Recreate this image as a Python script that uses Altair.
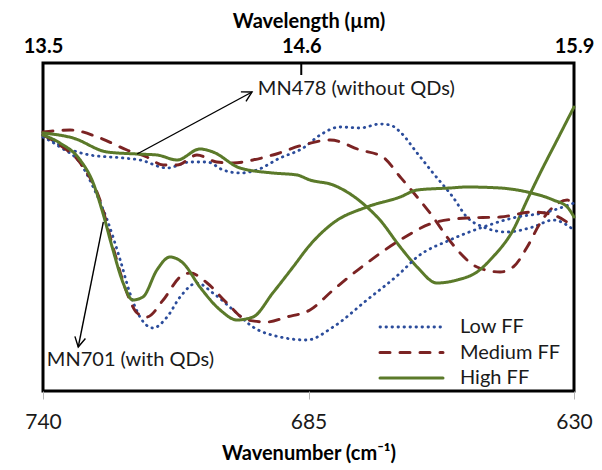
import math
import altair as alt
import pandas as pd

FONT = "Lato"

# ---- series definitions ----
series_names = ["Low FF", "Medium FF", "High FF"]
series_colors = ["#2B4C9B", "#7B2323", "#5B7A2A"]
series_dash = [[0.5, 5.5], [10, 10], [1, 0]]
series_width = [2.8, 3, 3]

# ---- MN478 (without QDs) ----
mn478_low_wn = [740, 736.5, 730.3, 723.4, 719.9, 714.3, 709.5, 706.0, 702.7, 699.2, 695.7, 690.9, 686.1, 682.6,
                678.5, 674.3, 670.2, 668.1, 666.0, 662.5, 659.2, 655.1, 652.2, 648.8, 643.9, 638.5, 634.3, 630]
mn478_low_t = [256, 246, 236, 233, 231, 223, 229, 229, 221, 218, 221, 233, 243, 256,
               264, 263, 267, 266, 259, 238, 218, 194, 174, 164, 159, 164, 171, 161]

mn478_med_wn = [740, 734.4, 728.2, 722.6, 718.5, 715.1, 712.2, 708.1, 704.0, 700.6, 696.5, 692.4, 686.1, 680.5,
                674.3, 669.6, 666.0, 662.5, 659.2, 656.3, 653.6, 650.1, 645.3, 642.6, 639.7, 637.0, 634.3, 631.4, 630]
mn478_med_t = [259, 261, 253, 241, 234, 226, 226, 236, 229, 228, 231, 236, 246, 251,
               241, 234, 214, 194, 174, 154, 138, 124, 119, 124, 144, 168, 184, 191, 184]

mn478_high_wn = [740, 733.8, 726.7, 720.5, 716.4, 712.2, 707.5, 704.8, 699.2, 692.4, 687.4, 684.7, 679.9,
                 672.9, 670.2, 666.0, 662.5, 658.4, 654.2, 650.1, 646.8, 642.6, 639.7, 637.0, 633.5, 630]
mn478_high_t = [258, 253, 239, 237, 236, 231, 242, 239, 223, 218, 216, 211, 206,
                184, 171, 144, 124, 108, 111, 119, 134, 161, 191, 218, 251, 284]

# ---- MN701 (with QDs) ----
mn701_low_wn = [740, 736.5, 732.3, 729.6, 726.7, 724.0, 722.0, 719.9, 717.2, 714.3, 711.6, 708.1, 704.8,
                700.6, 696.5, 690.9, 685.3, 679.9, 672.9, 666.0, 662.5, 655.7, 648.8, 641.8, 636.4, 630]
mn701_low_t = [254, 244, 228, 204, 171, 131, 98, 74, 63, 74, 94, 108, 98,
               81, 64, 54, 51, 64, 91, 118, 134, 151, 164, 174, 178, 188]

mn701_med_wn = [740, 736.5, 732.3, 728.2, 725.5, 722.6, 720.5, 718.5, 715.1, 711.6, 709.5, 706.0, 701.9,
                697.7, 693.6, 689.5, 684.7, 679.9, 672.9, 666.0, 659.2, 652.2, 645.3, 638.5, 634.3, 630]
mn701_med_t = [256, 246, 228, 191, 144, 98, 78, 74, 91, 114, 118, 108, 88,
               71, 69, 74, 81, 101, 128, 151, 168, 173, 174, 179, 176, 164]

mn701_high_wn = [740, 736.5, 732.3, 729.6, 727.6, 725.5, 723.4, 721.4, 719.3, 716.4, 713.7, 711.0, 707.5,
                 703.3, 699.8, 696.5, 692.4, 688.2, 684.7, 679.9, 672.9, 666.0, 662.5, 655.7, 652.2, 645.3,
                 639.7, 634.3, 631.4, 630]
mn701_high_t = [256, 248, 231, 208, 178, 141, 108, 91, 94, 121, 134, 128, 104,
                81, 71, 74, 98, 124, 146, 168, 184, 194, 201, 203, 204, 203,
                199, 191, 184, 174]

# ---- axes ----
bottom_ticks = [740, 685, 630]
top_tick_wn = [740, 686.5, 630]
top_tick_labels = ["13.5", "14.6", "15.9"]
x_domain = [630, 740]
y_domain = [0, 328]

# ---- annotations ----
ann_text = ["MN478 (without QDs)", "MN701 (with QDs)"]
ann_text_wn = [695.5, 739.2]
ann_text_t = [302, 31]
arrow_start_wn = [720.5, 727.5]
arrow_start_t = [237, 169]
arrow_tip_wn = [696.7, 732.7]
arrow_tip_t = [299, 44]

PLOT_W, PLOT_H = 531, 328

rows = []
for grp, lst in [("MN478", [(mn478_low_wn, mn478_low_t), (mn478_med_wn, mn478_med_t), (mn478_high_wn, mn478_high_t)]),
                 ("MN701", [(mn701_low_wn, mn701_low_t), (mn701_med_wn, mn701_med_t), (mn701_high_wn, mn701_high_t)])]:
    for name, (wns, ts) in zip(series_names, lst):
        for w, t in zip(wns, ts):
            rows.append({"wn": w, "t": t, "series": name, "group": grp + "-" + name})
df = pd.DataFrame(rows)

xscale = alt.Scale(domain=x_domain, reverse=True, nice=False, zero=False)
yscale = alt.Scale(domain=y_domain, nice=False, zero=False)

lines = alt.Chart(df).mark_line(interpolate="monotone", strokeCap="round", strokeJoin="round").encode(
    x=alt.X("wn:Q", scale=xscale, axis=alt.Axis(
        values=bottom_ticks, format="d", title="Wavenumber (cm⁻¹)", titleFontSize=20,
        titleFontWeight="bold", titleColor="black", labelFontSize=21, labelColor="#1a1a1a",
        labelFlush=False, tickColor="#b5b5b5", tickSize=8, tickWidth=1, labelPadding=12,
        domain=False, grid=False, titlePadding=11, labelFont=FONT, titleFont=FONT)),
    y=alt.Y("t:Q", scale=yscale, axis=alt.Axis(
        title="Transmittance (a.u.)", labels=False, ticks=False, domain=False, grid=False,
        titleFontSize=20, titleFontWeight="bold", titleColor="black", titlePadding=12, titleFont=FONT)),
    color=alt.Color("series:N", scale=alt.Scale(domain=series_names, range=series_colors), legend=None),
    strokeDash=alt.StrokeDash("series:N", scale=alt.Scale(domain=series_names, range=series_dash), legend=None),
    strokeWidth=alt.StrokeWidth("series:N", scale=alt.Scale(domain=series_names, range=series_width), legend=None),
    detail="group:N",
)

label_expr = ""
for v, lab in zip(top_tick_wn, top_tick_labels):
    label_expr += f"datum.value == {v} ? '{lab}' : "
label_expr += "''"

top_axis = alt.Chart(pd.DataFrame({"wn": [top_tick_wn[1]]})).mark_rule(color="black", strokeWidth=2).encode(
    x=alt.X("wn:Q", scale=xscale, axis=alt.Axis(
        orient="top", values=top_tick_wn, labelExpr=label_expr, title="Wavelength (µm)",
        titleFontWeight="bold", titleFontSize=20, titleColor="black", labelFontSize=20,
        labelFontWeight="bold", labelColor="black", ticks=False, domain=False, grid=False,
        labelFlush=False, labelPadding=7, titlePadding=5, labelFont=FONT, titleFont=FONT)),
    y=alt.value(0), y2=alt.value(12),
)

# arrows
px_per_wn = PLOT_W / (x_domain[1] - x_domain[0])
px_per_t = PLOT_H / (y_domain[1] - y_domain[0])
angles = []
for sw, st, tw, tt in zip(arrow_start_wn, arrow_start_t, arrow_tip_wn, arrow_tip_t):
    dx = -(tw - sw) * px_per_wn
    dy = -(tt - st) * px_per_t
    angles.append((math.degrees(math.atan2(dy, dx)) + 90) % 360)
arr_df = pd.DataFrame({"x1": arrow_start_wn, "y1": arrow_start_t, "x2": arrow_tip_wn,
                       "y2": arrow_tip_t, "ang": angles})

arrow_lines = alt.Chart(arr_df).mark_rule(color="black", strokeWidth=1.4).encode(
    x=alt.X("x1:Q", scale=xscale, axis=None),
    y=alt.Y("y1:Q", scale=yscale, axis=None),
    x2="x2:Q", y2="y2:Q",
)
arrow_heads = alt.Chart(arr_df).mark_point(
    shape="M-0.55,1L0,0L0.55,1", filled=False, stroke="black", strokeWidth=1.4, size=380, opacity=1
).encode(
    x=alt.X("x2:Q", scale=xscale, axis=None),
    y=alt.Y("y2:Q", scale=yscale, axis=None),
    angle=alt.Angle("ang:Q", scale=None),
)

ann_df = pd.DataFrame({"label": ann_text, "wn": ann_text_wn, "t": ann_text_t})
ann = alt.Chart(ann_df).mark_text(align="left", baseline="middle", fontSize=20, font=FONT, color="#1a1a1a").encode(
    x=alt.X("wn:Q", scale=xscale, axis=None),
    y=alt.Y("t:Q", scale=yscale, axis=None),
    text="label:N",
)

# manual legend (layout inside plot, bottom right)
legend_layers = []
for i, (name, col, dash, wid) in enumerate(zip(series_names, series_colors, series_dash, series_width)):
    ld = pd.DataFrame({"label": [name]})
    ypos = 264 + 25.5 * i
    legend_layers.append(
        alt.Chart(ld).mark_rule(color=col, strokeDash=dash, strokeWidth=wid, strokeCap="round").encode(
            x=alt.value(337), x2=alt.value(400), y=alt.value(ypos)))
    legend_layers.append(
        alt.Chart(ld).mark_text(align="left", baseline="middle", fontSize=20, font=FONT, color="#1a1a1a").encode(
            x=alt.value(417), y=alt.value(ypos), text="label:N"))

chart = alt.layer(lines, top_axis, arrow_lines, arrow_heads, ann, *legend_layers).resolve_axis(
    x="independent"
).properties(
    width=PLOT_W, height=PLOT_H,
    autosize=alt.AutoSizeParams(type="none"),
    padding={"left": 35, "top": 55, "right": 20, "bottom": 78},
).configure(font=FONT).configure_view(stroke="black", strokeWidth=3)

chart.save("out.html", embed_options={"renderer": "svg", "actions": False})
